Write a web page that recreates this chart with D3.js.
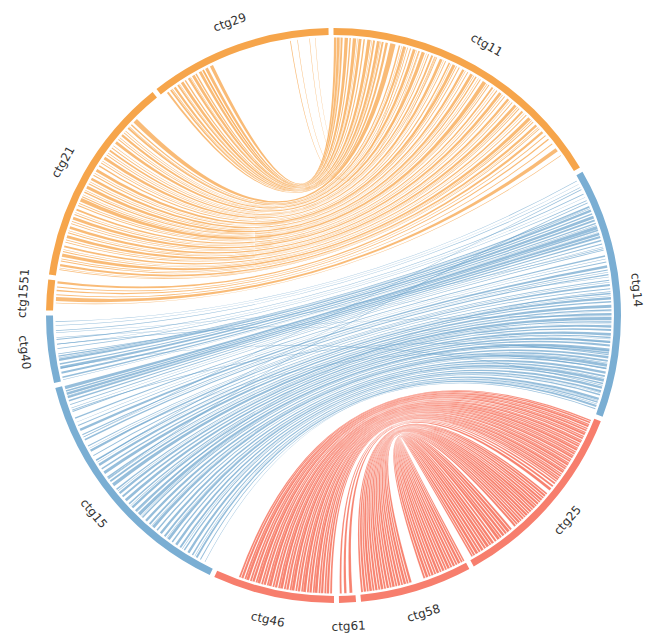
<!DOCTYPE html>
<html>
<head>
<meta charset="utf-8">
<script src="https://cdn.jsdelivr.net/npm/d3@7"></script>
<style>
  html, body { margin: 0; padding: 0; background: #ffffff; }
  svg { display: block; }
</style>
</head>
<body>
<svg id="chart" width="646" height="641"></svg>
<script>
// Contigs in clockwise order from 12 o'clock, lengths in kb
const contigs = ["ctg11", "ctg14", "ctg25", "ctg58", "ctg61", "ctg46", "ctg15", "ctg40", "ctg1551", "ctg21", "ctg29"];
const contigLengths = [5900, 5060, 3920, 2270, 340, 2460, 4990, 1360, 620, 4280, 3700];
const contigColors = ["#f6a54b", "#7aaed3", "#f77e6d", "#f77e6d", "#f77e6d", "#f77e6d", "#7aaed3", "#7aaed3", "#f6a54b", "#f6a54b", "#f6a54b"];

// Syntenic blocks: [contig A, startA, endA, contig B, startB, endB] (kb)
const orangeLinks = [
  ["ctg29", 1160, 1230, "ctg11", 10, 60],
  ["ctg29", 1050, 1110, "ctg11", 70, 125],
  ["ctg29", 1000, 1010, "ctg11", 130, 140],
  ["ctg29", 980, 1020, "ctg11", 150, 190],
  ["ctg29", 900, 960, "ctg11", 230, 300],
  ["ctg29", 820, 850, "ctg11", 330, 360],
  ["ctg29", 740, 800, "ctg11", 400, 470],
  ["ctg29", 700, 710, "ctg11", 490, 500],
  ["ctg29", 640, 690, "ctg11", 520, 580],
  ["ctg29", 560, 590, "ctg11", 620, 650],
  ["ctg29", 470, 530, "ctg11", 700, 770],
  ["ctg29", 430, 440, "ctg11", 790, 800],
  ["ctg29", 380, 420, "ctg11", 820, 860],
  ["ctg29", 290, 340, "ctg11", 900, 960],
  ["ctg29", 250, 262, "ctg11", 970, 982],
  ["ctg29", 200, 240, "ctg11", 1000, 1040],
  ["ctg29", 120, 160, "ctg11", 1080, 1130],
  ["ctg29", 2900, 2915, "ctg11", 1500, 1515],
  ["ctg29", 3050, 3060, "ctg11", 1800, 1810],
  ["ctg29", 3300, 3310, "ctg11", 2150, 2160],
  ["ctg29", 3420, 3428, "ctg11", 2500, 2508],
  ["ctg21", 3580, 3680, "ctg11", 1180, 1290],
  ["ctg21", 3500, 3530, "ctg11", 1360, 1390],
  ["ctg21", 3450, 3460, "ctg11", 1420, 1430],
  ["ctg21", 3400, 3440, "ctg11", 1450, 1500],
  ["ctg21", 3330, 3345, "ctg11", 1540, 1555],
  ["ctg21", 3280, 3300, "ctg11", 1600, 1620],
  ["ctg21", 3200, 3250, "ctg11", 1660, 1720],
  ["ctg21", 3150, 3160, "ctg11", 1740, 1750],
  ["ctg21", 3100, 3120, "ctg11", 1780, 1800],
  ["ctg21", 3000, 3060, "ctg11", 1850, 1920],
  ["ctg21", 2940, 2950, "ctg11", 1950, 1960],
  ["ctg21", 2880, 2900, "ctg11", 1990, 2010],
  ["ctg21", 2800, 2840, "ctg11", 2060, 2100],
  ["ctg21", 2750, 2765, "ctg11", 2130, 2145],
  ["ctg21", 2700, 2720, "ctg11", 2170, 2190],
  ["ctg21", 2600, 2660, "ctg11", 2250, 2310],
  ["ctg21", 2550, 2560, "ctg11", 2330, 2340],
  ["ctg21", 2500, 2520, "ctg11", 2370, 2390],
  ["ctg21", 2420, 2450, "ctg11", 2450, 2480],
  ["ctg21", 2300, 2360, "ctg11", 2540, 2600],
  ["ctg21", 2250, 2265, "ctg11", 2620, 2635],
  ["ctg21", 2200, 2220, "ctg11", 2680, 2700],
  ["ctg21", 2100, 2150, "ctg11", 2760, 2810],
  ["ctg21", 2050, 2060, "ctg11", 2830, 2840],
  ["ctg21", 2000, 2020, "ctg11", 2880, 2900],
  ["ctg21", 1900, 1960, "ctg11", 2950, 3010],
  ["ctg21", 1850, 1865, "ctg11", 3030, 3045],
  ["ctg21", 1800, 1830, "ctg11", 3070, 3100],
  ["ctg21", 1750, 1760, "ctg11", 3140, 3150],
  ["ctg21", 1700, 1720, "ctg11", 3180, 3200],
  ["ctg21", 1600, 1680, "ctg11", 3250, 3330],
  ["ctg21", 1550, 1565, "ctg11", 3350, 3365],
  ["ctg21", 1500, 1520, "ctg11", 3390, 3410],
  ["ctg21", 1400, 1440, "ctg11", 3470, 3510],
  ["ctg21", 1350, 1360, "ctg11", 3540, 3550],
  ["ctg21", 1300, 1320, "ctg11", 3590, 3610],
  ["ctg21", 1200, 1260, "ctg11", 3660, 3720],
  ["ctg21", 1150, 1165, "ctg11", 3740, 3755],
  ["ctg21", 1100, 1120, "ctg11", 3790, 3810],
  ["ctg21", 1000, 1050, "ctg11", 3870, 3920],
  ["ctg21", 950, 960, "ctg11", 3940, 3950],
  ["ctg21", 900, 920, "ctg11", 3990, 4010],
  ["ctg21", 800, 860, "ctg11", 4060, 4120],
  ["ctg21", 750, 765, "ctg11", 4140, 4155],
  ["ctg21", 700, 720, "ctg11", 4180, 4200],
  ["ctg21", 600, 640, "ctg11", 4260, 4300],
  ["ctg21", 550, 560, "ctg11", 4330, 4340],
  ["ctg21", 500, 520, "ctg11", 4380, 4400],
  ["ctg21", 400, 470, "ctg11", 4450, 4520],
  ["ctg21", 350, 365, "ctg11", 4540, 4555],
  ["ctg21", 300, 320, "ctg11", 4580, 4600],
  ["ctg21", 200, 250, "ctg11", 4660, 4710],
  ["ctg21", 160, 170, "ctg11", 4740, 4750],
  ["ctg21", 120, 140, "ctg11", 4770, 4790],
  ["ctg1551", 560, 610, "ctg11", 4850, 4900],
  ["ctg1551", 480, 500, "ctg11", 4960, 4980],
  ["ctg1551", 400, 430, "ctg11", 5050, 5080],
  ["ctg1551", 320, 340, "ctg11", 5180, 5200],
  ["ctg1551", 200, 280, "ctg11", 5300, 5380],
  ["ctg1551", 150, 165, "ctg11", 5480, 5495]
];

const blueLinks = [
  ["ctg14", 100, 115, "ctg40", 1228, 1243],
  ["ctg14", 180, 190, "ctg40", 1150, 1160],
  ["ctg14", 250, 265, "ctg40", 1042, 1057],
  ["ctg14", 400, 420, "ctg40", 854, 874],
  ["ctg14", 480, 490, "ctg40", 760, 770],
  ["ctg14", 550, 565, "ctg40", 670, 685],
  ["ctg14", 680, 710, "ctg40", 505, 535],
  ["ctg14", 730, 740, "ctg40", 480, 490],
  ["ctg14", 760, 810, "ctg40", 420, 470],
  ["ctg14", 840, 870, "ctg40", 340, 370],
  ["ctg14", 900, 960, "ctg40", 250, 310],
  ["ctg14", 980, 1020, "ctg40", 150, 190],
  ["ctg14", 1050, 1080, "ctg40", 60, 90],
  ["ctg14", 1100, 1110, "ctg40", 20, 30],
  ["ctg14", 1120, 1190, "ctg15", 4910, 4980],
  ["ctg14", 1200, 1230, "ctg15", 4860, 4890],
  ["ctg14", 1250, 1260, "ctg15", 4760, 4770],
  ["ctg14", 1270, 1320, "ctg15", 4790, 4840],
  ["ctg14", 1340, 1380, "ctg15", 4720, 4760],
  ["ctg14", 1420, 1450, "ctg15", 4650, 4680],
  ["ctg14", 1500, 1520, "ctg15", 4570, 4590],
  ["ctg14", 1570, 1580, "ctg15", 4500, 4510],
  ["ctg14", 1630, 1650, "ctg15", 4420, 4440],
  ["ctg14", 1750, 1780, "ctg15", 4270, 4300],
  ["ctg14", 1820, 1830, "ctg15", 4190, 4200],
  ["ctg14", 1880, 1900, "ctg15", 4110, 4130],
  ["ctg14", 1960, 2010, "ctg15", 3995, 4045],
  ["ctg14", 2050, 2070, "ctg15", 3900, 3920],
  ["ctg14", 2100, 2110, "ctg15", 3850, 3860],
  ["ctg14", 2140, 2170, "ctg15", 3780, 3810],
  ["ctg14", 2260, 2280, "ctg15", 3640, 3660],
  ["ctg14", 2310, 2320, "ctg15", 3590, 3600],
  ["ctg14", 2350, 2390, "ctg15", 3515, 3555],
  ["ctg14", 2440, 2460, "ctg15", 3415, 3435],
  ["ctg14", 2530, 2560, "ctg15", 3300, 3330],
  ["ctg14", 2590, 2600, "ctg15", 3260, 3270],
  ["ctg14", 2620, 2670, "ctg15", 3175, 3225],
  ["ctg14", 2700, 2730, "ctg15", 3085, 3115],
  ["ctg14", 2780, 2840, "ctg15", 2975, 3035],
  ["ctg14", 2870, 2900, "ctg15", 2875, 2905],
  ["ctg14", 2910, 2920, "ctg15", 2840, 2850],
  ["ctg14", 2950, 2990, "ctg15", 2770, 2810],
  ["ctg14", 3030, 3100, "ctg15", 2660, 2730],
  ["ctg14", 3120, 3150, "ctg15", 2565, 2595],
  ["ctg14", 3170, 3180, "ctg15", 2530, 2540],
  ["ctg14", 3200, 3250, "ctg15", 2455, 2505],
  ["ctg14", 3280, 3320, "ctg15", 2365, 2405],
  ["ctg14", 3360, 3420, "ctg15", 2255, 2315],
  ["ctg14", 3440, 3470, "ctg15", 2170, 2200],
  ["ctg14", 3480, 3490, "ctg15", 2130, 2140],
  ["ctg14", 3520, 3570, "ctg15", 2060, 2110],
  ["ctg14", 3600, 3640, "ctg15", 1965, 2005],
  ["ctg14", 3680, 3750, "ctg15", 1850, 1920],
  ["ctg14", 3720, 3730, "ctg15", 1820, 1830],
  ["ctg14", 3760, 3790, "ctg15", 1775, 1805],
  ["ctg14", 3840, 3890, "ctg15", 1665, 1715],
  ["ctg14", 3920, 3960, "ctg15", 1570, 1610],
  ["ctg14", 3980, 3990, "ctg15", 1530, 1540],
  ["ctg14", 4000, 4060, "ctg15", 1460, 1520],
  ["ctg14", 4080, 4110, "ctg15", 1375, 1405],
  ["ctg14", 4160, 4210, "ctg15", 1265, 1315],
  ["ctg14", 4240, 4280, "ctg15", 1170, 1210],
  ["ctg14", 4300, 4310, "ctg15", 1130, 1140],
  ["ctg14", 4320, 4380, "ctg15", 1060, 1120],
  ["ctg14", 4400, 4430, "ctg15", 980, 1010],
  ["ctg14", 4480, 4530, "ctg15", 870, 920],
  ["ctg14", 4560, 4600, "ctg15", 775, 815],
  ["ctg14", 4610, 4620, "ctg15", 740, 750],
  ["ctg14", 4640, 4670, "ctg15", 680, 710],
  ["ctg14", 4720, 4770, "ctg15", 570, 620],
  ["ctg14", 4800, 4830, "ctg15", 485, 515],
  ["ctg14", 4850, 4860, "ctg15", 440, 450],
  ["ctg14", 4880, 4920, "ctg15", 380, 420],
  ["ctg14", 300, 315, "ctg15", 3850, 3865],
  ["ctg14", 700, 712, "ctg15", 3300, 3312],
  ["ctg14", 1600, 1615, "ctg40", 560, 575],
  ["ctg14", 2200, 2210, "ctg40", 1000, 1010],
  ["ctg14", 3550, 3560, "ctg40", 900, 910],
  ["ctg14", 3800, 3820, "ctg15", 4450, 4470],
  ["ctg14", 4450, 4465, "ctg40", 260, 275],
  ["ctg14", 2500, 2515, "ctg15", 1950, 1965],
  ["ctg14", 600, 620, "ctg15", 2850, 2870],
  ["ctg14", 3000, 3015, "ctg40", 760, 775],
  ["ctg14", 4100, 4115, "ctg15", 3550, 3565],
  ["ctg14", 4950, 4970, "ctg15", 300, 320],
  ["ctg14", 4780, 4790, "ctg15", 200, 210]
];

const redLinks = [
  ["ctg46", 1960, 2000, "ctg25", 48, 78],
  ["ctg46", 1900, 1950, "ctg25", 85, 123],
  ["ctg46", 1840, 1880, "ctg25", 138, 168],
  ["ctg46", 1780, 1840, "ctg25", 168, 212],
  ["ctg46", 1720, 1760, "ctg25", 228, 258],
  ["ctg46", 1660, 1710, "ctg25", 265, 303],
  ["ctg46", 1600, 1640, "ctg25", 318, 348],
  ["ctg46", 1540, 1600, "ctg25", 348, 392],
  ["ctg46", 1480, 1520, "ctg25", 408, 438],
  ["ctg46", 1420, 1470, "ctg25", 445, 483],
  ["ctg46", 1360, 1400, "ctg25", 498, 528],
  ["ctg46", 1300, 1360, "ctg25", 528, 572],
  ["ctg46", 1240, 1280, "ctg25", 588, 618],
  ["ctg46", 1180, 1230, "ctg25", 625, 663],
  ["ctg46", 1120, 1160, "ctg25", 678, 708],
  ["ctg46", 1060, 1120, "ctg25", 708, 752],
  ["ctg46", 1000, 1040, "ctg25", 768, 798],
  ["ctg46", 940, 990, "ctg25", 805, 843],
  ["ctg46", 880, 920, "ctg25", 858, 888],
  ["ctg46", 820, 880, "ctg25", 888, 932],
  ["ctg46", 760, 800, "ctg25", 948, 978],
  ["ctg46", 700, 750, "ctg25", 985, 1023],
  ["ctg46", 640, 680, "ctg25", 1038, 1068],
  ["ctg46", 580, 640, "ctg25", 1068, 1112],
  ["ctg46", 520, 560, "ctg25", 1128, 1158],
  ["ctg46", 460, 510, "ctg25", 1165, 1203],
  ["ctg46", 400, 440, "ctg25", 1218, 1248],
  ["ctg46", 340, 400, "ctg25", 1248, 1292],
  ["ctg46", 280, 320, "ctg25", 1308, 1338],
  ["ctg46", 220, 270, "ctg25", 1345, 1383],
  ["ctg46", 160, 200, "ctg25", 1398, 1428],
  ["ctg46", 100, 150, "ctg25", 1435, 1473],
  ["ctg46", 40, 80, "ctg25", 1488, 1518],
  ["ctg61", 280, 320, "ctg25", 1540, 1580],
  ["ctg61", 180, 230, "ctg25", 1610, 1650],
  ["ctg61", 60, 120, "ctg25", 1680, 1740],
  ["ctg58", 2210, 2250, "ctg25", 1813, 1849],
  ["ctg58", 2145, 2195, "ctg25", 1863, 1909],
  ["ctg58", 2090, 2130, "ctg25", 1922, 1958],
  ["ctg58", 2022, 2078, "ctg25", 1970, 2020],
  ["ctg58", 1970, 2010, "ctg25", 2031, 2067],
  ["ctg58", 1905, 1955, "ctg25", 2081, 2127],
  ["ctg58", 1850, 1890, "ctg25", 2141, 2177],
  ["ctg58", 1783, 1837, "ctg25", 2188, 2238],
  ["ctg58", 1730, 1770, "ctg25", 2250, 2286],
  ["ctg58", 1665, 1715, "ctg25", 2299, 2345],
  ["ctg58", 1610, 1650, "ctg25", 2359, 2395],
  ["ctg58", 1543, 1597, "ctg25", 2407, 2457],
  ["ctg58", 1490, 1530, "ctg25", 2468, 2504],
  ["ctg58", 1425, 1475, "ctg25", 2518, 2564],
  ["ctg58", 1370, 1410, "ctg25", 2577, 2613],
  ["ctg58", 1303, 1357, "ctg25", 2625, 2675],
  ["ctg58", 1250, 1290, "ctg25", 2687, 2723],
  ["ctg58", 1185, 1235, "ctg25", 2736, 2782],
  ["ctg58", 890, 930, "ctg25", 2850, 2894],
  ["ctg58", 823, 877, "ctg25", 2908, 2968],
  ["ctg58", 770, 810, "ctg25", 2982, 3026],
  ["ctg58", 705, 755, "ctg25", 3042, 3097],
  ["ctg58", 650, 690, "ctg25", 3114, 3158],
  ["ctg58", 583, 637, "ctg25", 3164, 3224],
  ["ctg58", 530, 570, "ctg25", 3246, 3290],
  ["ctg58", 465, 515, "ctg25", 3312, 3367],
  ["ctg58", 410, 450, "ctg25", 3378, 3422],
  ["ctg58", 343, 397, "ctg25", 3436, 3496],
  ["ctg58", 290, 330, "ctg25", 3510, 3554],
  ["ctg58", 225, 275, "ctg25", 3570, 3626],
  ["ctg58", 170, 210, "ctg25", 3642, 3686],
  ["ctg58", 103, 157, "ctg25", 3700, 3760],
  ["ctg58", 50, 90, "ctg25", 3774, 3818],
  ["ctg58", 8, 40, "ctg25", 3829, 3864]
];

// Layout
const width = 646, height = 641;
const cx = 333.5, cy = 315.5;
const rOuter = 287.5, rInner = 280.5, rLink = 278, rLabel = 311;
const gapDeg = 1;

const svg = d3.select("#chart");
const root = svg.append("g").attr("transform", `translate(${cx},${cy})`);

// One linear scale per contig: kb -> angle (radians, clockwise from top)
const total = d3.sum(contigLengths);
const degPerKb = (360 - gapDeg * contigs.length) / total;
const scales = {};
let cursor = 0;
contigs.forEach((c, i) => {
  const a0 = cursor, a1 = cursor + contigLengths[i] * degPerKb;
  scales[c] = d3.scaleLinear().domain([0, contigLengths[i]]).range([a0 * Math.PI / 180, a1 * Math.PI / 180]);
  cursor = a1 + gapDeg;
});

// Links
const ribbon = d3.ribbon().radius(rLink);
function drawLinks(list, color, opacity, seam) {
  root.append("g")
    .selectAll("path")
    .data(list)
    .join("path")
    .attr("d", d => ribbon({
      source: { startAngle: scales[d[0]](d[1]), endAngle: scales[d[0]](d[2]) },
      target: { startAngle: scales[d[3]](d[4]), endAngle: scales[d[3]](d[5]) }
    }))
    .attr("fill", color)
    .attr("fill-opacity", opacity)
    .attr("stroke", seam ? "#ffffff" : "none")
    .attr("stroke-width", seam ? 0.3 : 0)
    .attr("stroke-opacity", 0.5);
}
drawLinks(blueLinks, "#6aa2cc", 0.7, false);
drawLinks(orangeLinks, "#f6a143", 0.72, false);
drawLinks(redLinks, "#f5674f", 0.82, true);

// Contig track
const arc = d3.arc().innerRadius(rInner).outerRadius(rOuter);
root.append("g")
  .selectAll("path")
  .data(contigs)
  .join("path")
  .attr("d", c => arc({ startAngle: scales[c].range()[0], endAngle: scales[c].range()[1] }))
  .attr("fill", (c, i) => contigColors[i]);

// Contig labels, tangential and kept upright
const labels = root.append("g")
  .selectAll("text")
  .data(contigs)
  .join("text")
  .attr("text-anchor", "middle")
  .attr("dominant-baseline", "central")
  .attr("font-family", "DejaVu Sans, sans-serif")
  .attr("font-size", 12)
  .attr("fill", "#333333")
  .text(c => c);

labels.each(function (c) {
  const [a0, a1] = scales[c].range();
  const mid = (a0 + a1) / 2;
  const deg = mid * 180 / Math.PI;
  let x = rLabel * Math.sin(mid);
  const y = -rLabel * Math.cos(mid);
  const rot = (deg > 90 && deg < 270) ? deg - 180 : deg;
  const el = d3.select(this);
  el.attr("transform", `translate(${x},${y}) rotate(${rot})`);
  // keep the label inside the drawing area
  const box = this.getBoundingClientRect();
  const overRight = box.right - (width - 1);
  const overLeft = 1 - box.left;
  if (overRight > 0) x -= overRight;
  if (overLeft > 0) x += overLeft;
  el.attr("transform", `translate(${x},${y}) rotate(${rot})`);
});
</script>
</body>
</html>
